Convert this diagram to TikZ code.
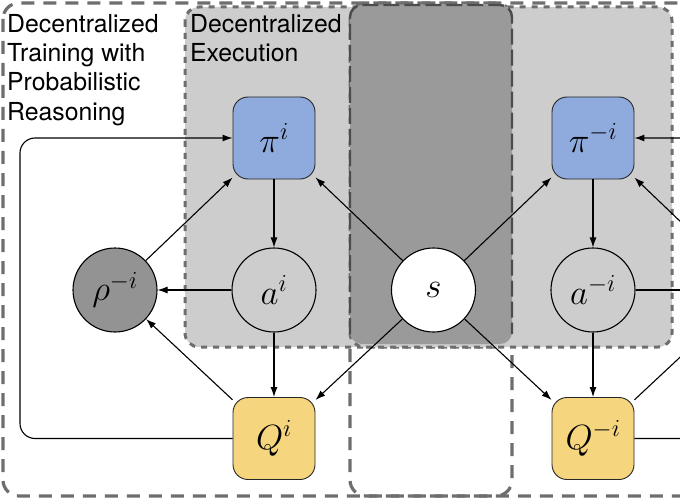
\documentclass[tikz,border=0pt]{standalone}
\usepackage{fix-cm}
\usepackage{fontspec}
\setmainfont{TeX Gyre Heros}
\usetikzlibrary{arrows.meta}
\definecolor{piblue}{HTML}{8FAADC}
\definecolor{qyellow}{HTML}{F5D57E}
\definecolor{execgray}{HTML}{CDCDCD}
\definecolor{sgray}{HTML}{9A9A9A}
\definecolor{rhogray}{HTML}{939393}
\definecolor{dashgray}{HTML}{6E6E6E}
\begin{document}
\begin{tikzpicture}[x=1pt,y=-1pt,
  bigbox/.style={draw=dashgray, line width=3.2pt, dash pattern=on 13pt off 9pt, rounded corners=16pt},
  execbox/.style={fill=execgray, draw=dashgray, line width=3pt, dash pattern=on 6pt off 6pt, rounded corners=14pt},
  sborder/.style={draw=black!70, line width=2.4pt, dash pattern=on 16pt off 5pt, rounded corners=12pt},
  sq/.style={draw=black!85, line width=0.9pt, rounded corners=15pt, minimum size=82pt, inner sep=0pt, font=\fontsize{35}{42}\selectfont},
  circ/.style={circle, draw=black, line width=1.1pt, minimum size=84pt, inner sep=0pt, font=\fontsize{35}{42}\selectfont},
  edge/.style={line width=1.1pt, -{Latex[length=10pt,width=7pt]}},
  lbl/.style={anchor=north west, align=left, inner sep=0pt, font=\fontsize{24.8}{29.3}\selectfont}
]
\useasboundingbox (0,0) rectangle (680,500);
\clip (0,0) rectangle (680,500);

% large training boxes
\draw[bigbox] (3,3) rectangle (512,496);
\draw[bigbox] (350,3) rectangle (864,496);

% execution boxes
\path[execbox] (185,7) rectangle (512,347);
\path[execbox] (350,7) rectangle (672,347);

% shared state box
\fill[sgray, rounded corners=12pt] (350,5) rectangle (512,344);
\draw[sborder] (350,334) -- (350,5) -- (512,5) -- (512,334);

% labels
\node[lbl] (t1) at (7,14) {Decentralized\\Training with\\Probabilistic\\Reasoning};
\node[lbl] (t2) at (190,14) {Decentralized\\Execution};

% nodes
\node[sq, fill=piblue] (pii) at (274,138) {$\pi^{i}$};
\node[circ, fill=execgray] (ai) at (274,290) {$a^{i}$};
\node[sq, fill=qyellow] (Qi) at (274,438.5) {$Q^{i}$};
\node[circ, fill=rhogray] (rho) at (115,290) {$\rho^{-i}$};
\node[circ, fill=white] (s) at (433.5,290) {$s$};
\node[sq, fill=piblue] (pimi) at (593,138) {$\pi^{-i}$};
\node[circ, fill=execgray] (ami) at (593,290) {$a^{-i}$};
\node[sq, fill=qyellow] (Qmi) at (593,438.5) {$Q^{-i}$};
\node[circle, minimum size=84pt, inner sep=0pt] (rhoi) at (752,290) {};
\coordinate (fbL) at (20,0);
\coordinate (fbR) at (847,0);

% edges agent i
\draw[edge] (pii) -- (ai);
\draw[edge] (ai) -- (Qi);
\draw[edge] (ai) -- (rho);
\draw[edge] (Qi) -- (rho);
\draw[edge] (rho) -- (pii);
\draw[edge] (s) -- (pii);
\draw[edge] (s) -- (Qi);
\draw[edge, rounded corners=15pt] (Qi.west) -- (fbL |- Qi.west) -- (fbL |- pii.west) -- (pii.west);

% edges agent -i
\draw[edge] (s) -- (pimi);
\draw[edge] (s) -- (Qmi);
\draw[edge] (pimi) -- (ami);
\draw[edge] (ami) -- (Qmi);
\draw[edge] (ami) -- (rhoi);
\draw[edge] (Qmi) -- (rhoi);
\draw[edge] (rhoi) -- (pimi);
\draw[edge, rounded corners=15pt] (Qmi.east) -- (fbR |- Qmi.east) -- (fbR |- pimi.east) -- (pimi.east);
\end{tikzpicture}
\end{document}
